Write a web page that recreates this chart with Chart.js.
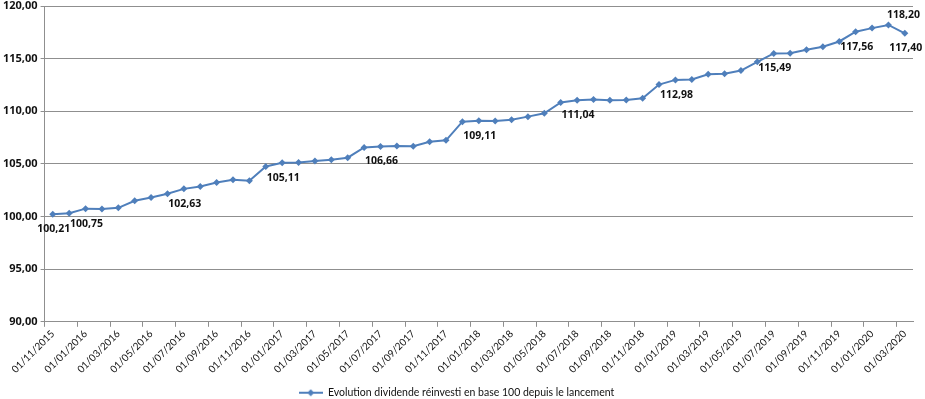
<!DOCTYPE html>
<html>
<head>
<meta charset="utf-8">
<script src="https://cdn.jsdelivr.net/npm/chart.js@4.4.0/dist/chart.umd.min.js"></script>
<style>
  html, body { margin: 0; padding: 0; background: #fff; }
  #wrap { width: 925px; height: 399px; position: relative; }
</style>
</head>
<body>
<div id="wrap"><canvas id="perfChart"></canvas></div>
<script>
// Dates de valorisation (mensuelles)
const dates = [
  '01/11/2015', '01/12/2015',
  '01/01/2016', '01/02/2016', '01/03/2016', '01/04/2016', '01/05/2016', '01/06/2016',
  '01/07/2016', '01/08/2016', '01/09/2016', '01/10/2016', '01/11/2016', '01/12/2016',
  '01/01/2017', '01/02/2017', '01/03/2017', '01/04/2017', '01/05/2017', '01/06/2017',
  '01/07/2017', '01/08/2017', '01/09/2017', '01/10/2017', '01/11/2017', '01/12/2017',
  '01/01/2018', '01/02/2018', '01/03/2018', '01/04/2018', '01/05/2018', '01/06/2018',
  '01/07/2018', '01/08/2018', '01/09/2018', '01/10/2018', '01/11/2018', '01/12/2018',
  '01/01/2019', '01/02/2019', '01/03/2019', '01/04/2019', '01/05/2019', '01/06/2019',
  '01/07/2019', '01/08/2019', '01/09/2019', '01/10/2019', '01/11/2019', '01/12/2019',
  '01/01/2020', '01/02/2020', '01/03/2020'
];

// Evolution base 100
const values = [
  100.21, 100.32,
  100.75, 100.72, 100.83, 101.50, 101.81, 102.16,
  102.63, 102.86, 103.24, 103.49, 103.40, 104.76,
  105.11, 105.14, 105.28, 105.40, 105.59, 106.57,
  106.66, 106.70, 106.67, 107.10, 107.24, 109.01,
  109.11, 109.08, 109.20, 109.49, 109.81, 110.83,
  111.04, 111.11, 111.05, 111.08, 111.24, 112.54,
  112.98, 113.02, 113.52, 113.56, 113.87, 114.70,
  115.49, 115.52, 115.84, 116.13, 116.63, 117.56,
  117.90, 118.20, 117.40
];

// Points annotes
const labelledPoints = [0, 2, 8, 14, 20, 26, 32, 38, 44, 49, 51, 52];
const labelsAbove = [51];

const seriesName = 'Evolution dividende réinvesti en base 100 depuis le lancement';
const yTicks = { min: 90, max: 120, step: 5 };

const lineColor = '#4f7fbb';
const gridColor = '#8f8f8f';
const textColor = '#111111';

function formatFr(v) {
    return v.toFixed(2).replace('.', ',');
}

// Legend icon: line with a diamond in the middle
function makeLegendIcon() {
    const c = document.createElement('canvas');
    c.width = 24;
    c.height = 8;
    const g = c.getContext('2d');
    g.strokeStyle = lineColor;
    g.lineWidth = 2;
    g.beginPath();
    g.moveTo(0, 4);
    g.lineTo(24, 4);
    g.stroke();
    g.fillStyle = lineColor;
    g.beginPath();
    g.moveTo(12, 0.5);
    g.lineTo(15.5, 4);
    g.lineTo(12, 7.5);
    g.lineTo(8.5, 4);
    g.closePath();
    g.fill();
    return c;
}

// Draw value labels next to selected points
const valueLabels = {
    id: 'valueLabels',
    afterDatasetsDraw(chart) {
        const ctx = chart.ctx;
        const meta = chart.getDatasetMeta(0);
        ctx.save();
        ctx.font = 'bold 10.5px "Open Sans", sans-serif';
        ctx.fillStyle = textColor;
        ctx.textAlign = 'center';
        ctx.textBaseline = 'middle';
        labelledPoints.forEach(i => {
            const pt = meta.data[i];
            if (!pt) return;
            let dx = 1;
            let dy = 15;
            if (labelsAbove.includes(i)) {
                // sits above and to the right of the peak
                dx = 15;
                dy = -10;
            }
            ctx.fillText(formatFr(values[i]), pt.x + dx, pt.y + dy);
        });
        ctx.restore();
    }
};

const legendIcon = makeLegendIcon();

const ctx = document.getElementById('perfChart').getContext('2d');
new Chart(ctx, {
    type: 'line',
    data: {
        labels: dates,
        datasets: [
            {
                label: seriesName,
                data: values,
                borderColor: lineColor,
                backgroundColor: lineColor,
                borderWidth: 2,
                pointStyle: 'rectRot',
                pointRadius: 3.5,
                pointHoverRadius: 3.5,
                pointBackgroundColor: lineColor,
                pointBorderColor: lineColor,
                pointBorderWidth: 0,
                tension: 0,
                fill: false
            }
        ]
    },
    plugins: [valueLabels],
    options: {
        responsive: true,
        maintainAspectRatio: false,
        animation: false,
        layout: {
            padding: { left: 0, right: 12, top: 6, bottom: -9 }
        },
        plugins: {
            legend: {
                position: 'bottom',
                labels: {
                    color: textColor,
                    font: { family: 'Lato, sans-serif', size: 10.5 },
                    usePointStyle: true,
                    pointStyleWidth: 24,
                    boxHeight: 8,
                    padding: 2,
                    generateLabels(chart) {
                        const items = Chart.defaults.plugins.legend.labels.generateLabels(chart);
                        return items.map(it => Object.assign(it, { pointStyle: legendIcon }));
                    }
                }
            },
            tooltip: { enabled: false }
        },
        scales: {
            x: {
                type: 'category',
                offset: true,
                // leave extra room between the date labels and the legend
                afterFit: function(scale) {
                    scale.height += 9;
                },
                grid: {
                    offset: true,
                    drawOnChartArea: false,
                    drawTicks: true,
                    tickLength: 5,
                    tickColor: c => (c.index % 2 === 0 ? gridColor : 'rgba(0,0,0,0)')
                },
                border: { color: gridColor, width: 1 },
                ticks: {
                    autoSkip: false,
                    maxRotation: 45,
                    minRotation: 45,
                    padding: 1,
                    color: textColor,
                    font: { family: 'Lato, sans-serif', size: 10 },
                    callback: function(value, index) {
                        return index % 2 === 0 ? dates[index] : '';
                    }
                }
            },
            y: {
                min: yTicks.min,
                max: yTicks.max,
                // top label may overhang the canvas edge, like the original
                afterFit: function(scale) {
                    scale.paddingTop = 0;
                },
                grid: {
                    color: gridColor,
                    tickLength: 4,
                    lineWidth: 1
                },
                border: { color: gridColor, width: 1 },
                ticks: {
                    stepSize: yTicks.step,
                    padding: 3,
                    color: textColor,
                    font: { family: '"Open Sans", sans-serif', size: 11, weight: 'bold' },
                    callback: function(value) {
                        return formatFr(value);
                    }
                }
            }
        }
    }
});
</script>
</body>
</html>
